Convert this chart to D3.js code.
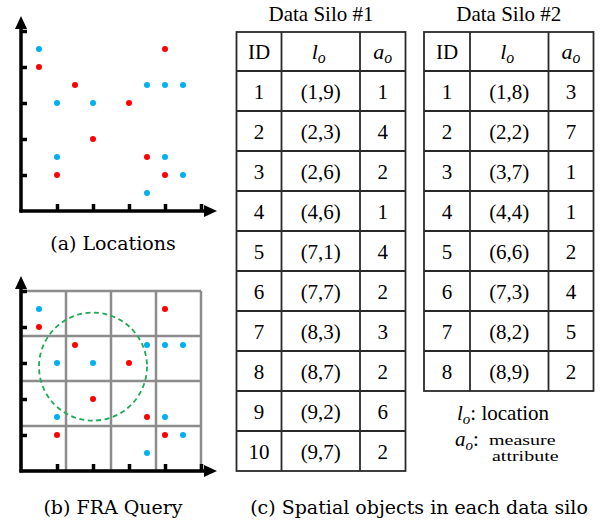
<!DOCTYPE html>
<html>
<head>
<meta charset="utf-8">
<script src="https://cdn.jsdelivr.net/npm/d3@7"></script>
<style>
  body { margin: 0; background: #fff; }
  svg text { fill: #000; }
  .tf { font-family: "Liberation Serif", "Times New Roman", Times, serif; }
  .cf { font-family: "DejaVu Serif", "Liberation Serif", serif; }
</style>
</head>
<body>
<svg id="chart" width="608" height="527"></svg>
<script>
// silo #1 objects (blue), silo #2 objects (red)
const silo1Ids = [1, 2, 3, 4, 5, 6, 7, 8, 9, 10];
const silo1Loc = [[1,9],[2,3],[2,6],[4,6],[7,1],[7,7],[8,3],[8,7],[9,2],[9,7]];
const silo1Attr = [1, 4, 2, 1, 4, 2, 3, 2, 6, 2];
const silo2Ids = [1, 2, 3, 4, 5, 6, 7, 8];
const silo2Loc = [[1,8],[2,2],[3,7],[4,4],[6,6],[7,3],[8,2],[8,9]];
const silo2Attr = [3, 7, 1, 1, 2, 4, 5, 2];
const tickVals = [2, 4, 6, 8, 10];
const gridVals = [0, 2.5, 5, 7.5, 10];
const queryCenter = [4, 5.8];
const queryRadius = 3;

const BLUE = "#00b0f0", RED = "#ff0000", GREEN = "#1faa55";
const svg = d3.select("#chart");

svg.append("defs").append("marker")
  .attr("id", "arrow")
  .attr("markerUnits", "userSpaceOnUse")
  .attr("markerWidth", 14).attr("markerHeight", 14)
  .attr("refX", 2).attr("refY", 7)
  .attr("orient", "auto")
  .append("path")
  .attr("d", "M0,1 L13,7 L0,13 Z")
  .attr("fill", "#000");

const x = d3.scaleLinear().domain([0, 10]).range([21, 201]);

function scatter(g, y, withGrid) {
  if (withGrid) {
    g.selectAll(".gv").data(gridVals).enter().append("line")
      .attr("x1", d => x(d)).attr("x2", d => x(d))
      .attr("y1", y(0)).attr("y2", y(10))
      .attr("stroke", "#8c8c8c").attr("stroke-width", 2.5);
    g.selectAll(".gh").data(gridVals).enter().append("line")
      .attr("x1", x(0)).attr("x2", x(10))
      .attr("y1", d => y(d)).attr("y2", d => y(d))
      .attr("stroke", "#8c8c8c").attr("stroke-width", 2.5);
    g.append("ellipse")
      .attr("cx", x(queryCenter[0])).attr("cy", y(queryCenter[1]))
      .attr("rx", x(queryRadius) - x(0)).attr("ry", y(0) - y(queryRadius))
      .attr("fill", "none").attr("stroke", GREEN)
      .attr("stroke-width", 1.8).attr("stroke-dasharray", "5,3.5");
  }

  const xa = g.append("g").attr("transform", `translate(0,${y(0)})`)
    .call(d3.axisBottom(x).tickValues(tickVals).tickFormat("").tickSizeInner(-7).tickSizeOuter(0));
  const ya = g.append("g").attr("transform", `translate(${x(0)},0)`)
    .call(d3.axisLeft(y).tickValues(tickVals).tickFormat("").tickSizeInner(-6).tickSizeOuter(0));
  [xa, ya].forEach(a => {
    a.select(".domain").remove();
    a.selectAll(".tick line").attr("stroke", "#000").attr("stroke-width", 3.5);
  });

  g.selectAll(".s1").data(silo1Loc).enter().append("circle")
    .attr("cx", d => x(d[0])).attr("cy", d => y(d[1])).attr("r", 3)
    .attr("fill", BLUE);
  g.selectAll(".s2").data(silo2Loc).enter().append("circle")
    .attr("cx", d => x(d[0])).attr("cy", d => y(d[1])).attr("r", 3)
    .attr("fill", RED);

  g.append("line")
    .attr("x1", x(0) - 1.5).attr("y1", y(0))
    .attr("x2", x(10) + 5).attr("y2", y(0))
    .attr("stroke", "#000").attr("stroke-width", 3.5)
    .attr("marker-end", "url(#arrow)");
  g.append("line")
    .attr("x1", x(0)).attr("y1", y(0) + 1.5)
    .attr("x2", x(0)).attr("y2", y(10) - 4)
    .attr("stroke", "#000").attr("stroke-width", 3.5)
    .attr("marker-end", "url(#arrow)");
}

scatter(svg.append("g"), d3.scaleLinear().domain([0, 10]).range([211, 31]), false);
scatter(svg.append("g"), d3.scaleLinear().domain([0, 10]).range([471, 291]), true);

function caption(txt, cx, by) {
  svg.append("text").attr("class", "cf").attr("x", cx).attr("y", by)
    .attr("text-anchor", "middle")
    .attr("font-size", 19)
    .text(txt);
}
caption("(a) Locations", 113, 250);
caption("(b) FRA Query", 113, 514);
caption("(c) Spatial objects in each data silo", 419, 514);

// tables
function subLabel(t, cx, by, base, size) {
  const el = t.append("text").attr("class", "tf").attr("x", cx).attr("y", by)
    .attr("text-anchor", "middle").attr("font-size", size);
  el.append("tspan").attr("font-style", "italic").text(base);
  el.append("tspan").attr("font-style", "italic")
    .attr("font-size", size * 0.72).attr("dy", size * 0.2).text("o");
  return el;
}

function table(cols, title, ids, locs, attrs) {
  const g = svg.append("g");
  const top = 32, headH = 39, rowH = 40;
  const rowY = d3.scaleLinear().domain([0, 1]).range([top + headH, top + headH + rowH]);
  const bottom = rowY(ids.length);
  const cx = (cols[0] + cols[3]) / 2;
  const lineCol = "#2a2a2a", lineW = 1.8;

  g.append("text").attr("class", "tf").attr("x", cx).attr("y", 21)
    .attr("text-anchor", "middle").attr("font-size", 21)
    .text(title);

  g.append("rect")
    .attr("x", cols[0]).attr("y", top)
    .attr("width", cols[3] - cols[0]).attr("height", bottom - top)
    .attr("fill", "none").attr("stroke", lineCol).attr("stroke-width", lineW);
  g.selectAll(".vl").data([cols[1], cols[2]]).enter().append("line")
    .attr("x1", d => d).attr("x2", d => d).attr("y1", top).attr("y2", bottom)
    .attr("stroke", lineCol).attr("stroke-width", lineW);
  g.selectAll(".hl").data(d3.range(ids.length)).enter().append("line")
    .attr("x1", cols[0]).attr("x2", cols[3])
    .attr("y1", d => rowY(d)).attr("y2", d => rowY(d))
    .attr("stroke", lineCol).attr("stroke-width", lineW);

  const mid = [0, 1, 2].map(i => (cols[i] + cols[i + 1]) / 2);
  g.append("text").attr("class", "tf").attr("x", mid[0]).attr("y", top + 26.5)
    .attr("text-anchor", "middle").attr("font-size", 21)
    .text("ID");
  subLabel(g, mid[1] - 2, top + 26.5, "l", 22);
  subLabel(g, mid[2], top + 26.5, "a", 22);

  const rows = ids.map((id, i) => [id, `(${locs[i][0]},${locs[i][1]})`, attrs[i]]);
  rows.forEach((r, i) => {
    r.forEach((v, j) => {
      g.append("text").attr("class", "tf").attr("x", mid[j]).attr("y", rowY(i) + 27.5)
        .attr("text-anchor", "middle").attr("font-size", 21)
        .text(v);
    });
  });
}

table([236.5, 281.5, 360, 405.5], "Data Silo #1", silo1Ids, silo1Loc, silo1Attr);
table([424, 470, 548.5, 593.5], "Data Silo #2", silo2Ids, silo2Loc, silo2Attr);

// legend
const lg = svg.append("g");
const l1 = lg.append("text").attr("class", "tf").attr("x", 457).attr("y", 420)
  .attr("font-size", 21);
l1.append("tspan").attr("font-style", "italic").text("l");
l1.append("tspan").attr("font-style", "italic").attr("font-size", 15).attr("dy", 4).text("o");
l1.append("tspan").attr("dy", -4).text(": location");

const l2 = lg.append("text").attr("class", "tf").attr("x", 455).attr("y", 446)
  .attr("font-size", 21);
l2.append("tspan").attr("font-style", "italic").text("a");
l2.append("tspan").attr("font-style", "italic").attr("font-size", 15).attr("dy", 4).text("o");
l2.append("tspan").attr("dy", -4).text(":");
lg.append("text").attr("class", "tf").attr("transform", "translate(489,445) scale(1,0.72)")
  .attr("font-size", 20).text("measure");
lg.append("text").attr("class", "tf").attr("transform", "translate(492,461) scale(1,0.72)")
  .attr("font-size", 20).text("attribute");
</script>
</body>
</html>
